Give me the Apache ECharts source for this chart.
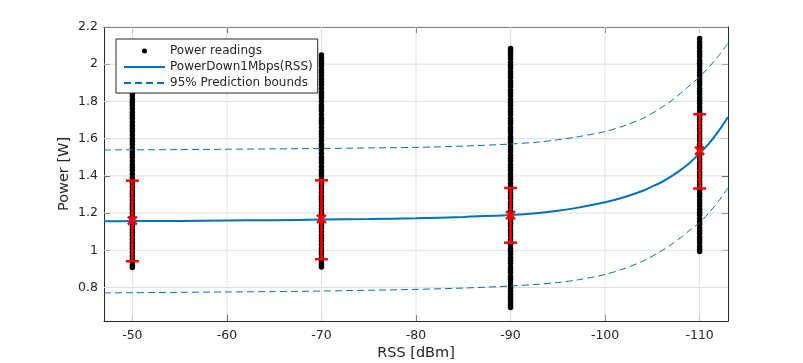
<!DOCTYPE html>
<html>
<head>
<meta charset="utf-8">
<script src="https://cdn.jsdelivr.net/npm/echarts@6/dist/echarts.min.js"></script>
<style>
html,body{margin:0;padding:0;background:#fff;}
#chart{width:803px;height:363px;}
</style>
</head>
<body>
<div id="chart"></div>
<script>
// ---- Data ----
const xTicks = [-50, -60, -70, -80, -90, -100, -110];
const yTicks = [0.8, 1, 1.2, 1.4, 1.6, 1.8, 2, 2.2];

const rssLevels = [-50, -70, -90, -110];
const readings50 = [0.907,0.92,0.94,0.955,0.97,0.99,1.01,1.025,1.04,1.06,1.08,1.095,1.11,1.13,1.15,1.165,1.18,1.20,1.22,1.235,1.25,1.27,1.29,1.305,1.32,1.34,1.36,1.375,1.39,1.41,1.43,1.445,1.46,1.48,1.50,1.515,1.53,1.55,1.57,1.585,1.60,1.62,1.64,1.655,1.67,1.69,1.71,1.725,1.74,1.76,1.78,1.795,1.81,1.83,1.844];
const readings70 = [0.91,0.925,0.94,0.96,0.98,0.995,1.01,1.03,1.05,1.065,1.08,1.10,1.12,1.135,1.15,1.17,1.19,1.205,1.22,1.24,1.26,1.275,1.29,1.31,1.33,1.345,1.36,1.38,1.40,1.415,1.43,1.45,1.47,1.485,1.50,1.52,1.54,1.555,1.57,1.59,1.61,1.625,1.64,1.66,1.68,1.695,1.71,1.73,1.75,1.765,1.78,1.80,1.82,1.835,1.85,1.87,1.89,1.905,1.92,1.94,1.955,1.97,1.99,2.005,2.02,2.035,2.049];
const readings90 = [0.693,0.705,0.72,0.735,0.748,0.762,0.78,0.795,0.81,0.83,0.845,0.86,0.88,0.895,0.91,0.93,0.945,0.96,0.98,0.995,1.01,1.03,1.045,1.06,1.08,1.095,1.11,1.13,1.145,1.16,1.18,1.195,1.21,1.23,1.245,1.26,1.28,1.295,1.31,1.33,1.345,1.36,1.38,1.395,1.41,1.43,1.445,1.46,1.48,1.495,1.51,1.53,1.545,1.56,1.58,1.595,1.61,1.63,1.645,1.66,1.68,1.695,1.71,1.73,1.745,1.76,1.78,1.795,1.81,1.83,1.845,1.86,1.88,1.895,1.91,1.93,1.945,1.96,1.98,1.995,2.01,2.03,2.045,2.06,2.072,2.084];
const readings110 = [0.993,1.005,1.02,1.04,1.055,1.07,1.09,1.105,1.12,1.14,1.155,1.17,1.19,1.205,1.22,1.24,1.255,1.27,1.29,1.305,1.32,1.34,1.355,1.37,1.39,1.405,1.42,1.44,1.455,1.47,1.49,1.505,1.52,1.54,1.555,1.57,1.59,1.605,1.62,1.64,1.655,1.67,1.69,1.705,1.72,1.74,1.755,1.77,1.79,1.805,1.82,1.84,1.855,1.87,1.89,1.905,1.92,1.94,1.955,1.97,1.99,2.005,2.02,2.04,2.055,2.07,2.09,2.105,2.12,2.138];

// fitted curve and prediction bounds
const fitX =     [-47,   -50,   -55,   -60,   -65,   -70,   -75,   -80,   -85,   -90,   -93,   -95,   -97,   -100,  -102,  -104,  -105,  -106,  -107,  -108,  -109,  -110,  -111,  -112,  -113];
const fitY =     [1.156, 1.157, 1.158, 1.160, 1.162, 1.165, 1.168, 1.172, 1.179, 1.189, 1.200, 1.212, 1.228, 1.258, 1.285, 1.320, 1.343, 1.367, 1.397, 1.432, 1.472, 1.522, 1.575, 1.640, 1.716];
const upperY =   [1.539, 1.540, 1.541, 1.543, 1.545, 1.547, 1.550, 1.553, 1.560, 1.571, 1.582, 1.594, 1.609, 1.638, 1.669, 1.709, 1.737, 1.768, 1.803, 1.844, 1.888, 1.932, 1.985, 2.045, 2.111];
const lowerY =   [0.771, 0.772, 0.774, 0.776, 0.778, 0.781, 0.785, 0.790, 0.797, 0.808, 0.818, 0.827, 0.840, 0.870, 0.901, 0.942, 0.969, 0.998, 1.031, 1.068, 1.110, 1.148, 1.202, 1.264, 1.335];

// error bars (mean and bounds)
const errLow =  [0.941, 0.952, 1.041, 1.332];
const errMean = [1.160, 1.169, 1.189, 1.535];
const errHigh = [1.374, 1.376, 1.335, 1.731];

// ---- Build ----
const readingSets = [readings50, readings70, readings90, readings110];
const scatterData = [];
rssLevels.forEach((x, i) => readingSets[i].forEach(v => scatterData.push([x, v])));
const zip = (xs, ys) => xs.map((x, i) => [x, ys[i]]);
const errData = rssLevels.map((x, i) => [x, errLow[i], errMean[i], errHigh[i]]);

const TXT = '#262626';
const FONT = 'DejaVu Sans';
const BLUE = '#0072BD';
const GRIDC = '#dfdfdf';

const chart = echarts.init(document.getElementById('chart'), null, {renderer: 'canvas'});

const axisCommon = {
  type: 'value',
  axisLine: {show: true, onZero: false, lineStyle: {color: TXT, width: 1}},
  axisTick: {show: true, inside: true, length: 6, lineStyle: {color: TXT, width: 1}},
  splitLine: {show: false}
};

// grid lines drawn through the axes' scales
function gridLineSeries(values, horizontal) {
  return {
    type: 'custom', data: values.map(v => [v]), z: 1, silent: true,
    encode: horizontal ? {y: 0} : {x: 0},
    renderItem: function (params, api) {
      const cs = params.coordSys;
      const v = api.value(0);
      let shape;
      if (horizontal) {
        const p = api.coord([-80, v]);
        shape = {x1: cs.x, y1: p[1], x2: cs.x + cs.width, y2: p[1]};
      } else {
        const p = api.coord([v, 1.4]);
        shape = {x1: p[0], y1: cs.y, x2: p[0], y2: cs.y + cs.height};
      }
      return {type: 'line', shape: shape, style: {stroke: GRIDC, lineWidth: 1}};
    }
  };
}

chart.setOption({
  animation: false,
  backgroundColor: '#fff',
  textStyle: {fontFamily: FONT},
  grid: {left: 104, right: 75, top: 27, bottom: 42, containLabel: false, outerBoundsMode: 'none'},
  legend: {
    data: [
      {name: 'Power readings'},
      {name: 'PowerDown1Mbps(RSS)', itemStyle: {opacity: 0}},
      {name: '95% Prediction bounds', itemStyle: {opacity: 0}}
    ],
    orient: 'vertical',
    left: 116, top: 39, z: 10,
    itemWidth: 41, itemHeight: 5, itemGap: 2,
    padding: [5, 5, 3, 7],
    backgroundColor: '#fff',
    borderColor: TXT, borderWidth: 1,
    selectedMode: false,
    textStyle: {fontFamily: FONT, fontSize: 12, color: TXT, lineHeight: 14}
  },
  xAxis: [
    Object.assign({}, axisCommon, {
      position: 'bottom', inverse: true, min: -113, max: -47,
      axisTick: Object.assign({}, axisCommon.axisTick, {customValues: xTicks}),
      axisLabel: {customValues: xTicks, color: TXT, fontFamily: FONT, fontSize: 12.5, margin: 8},
      name: 'RSS [dBm]', nameLocation: 'middle', nameGap: 25, nameMoveOverlap: false,
      nameTextStyle: {color: TXT, fontFamily: FONT, fontSize: 14.5}
    }),
    Object.assign({}, axisCommon, {
      position: 'top', inverse: true, min: -113, max: -47,
      axisTick: Object.assign({}, axisCommon.axisTick, {customValues: xTicks}),
      axisLabel: {show: false, customValues: xTicks}
    })
  ],
  yAxis: [
    Object.assign({}, axisCommon, {
      position: 'left', min: 0.62, max: 2.2,
      axisTick: Object.assign({}, axisCommon.axisTick, {customValues: yTicks}),
      axisLabel: {customValues: yTicks, color: TXT, fontFamily: FONT, fontSize: 12.5, margin: 6},
      name: 'Power [W]', nameLocation: 'middle', nameGap: 32, nameMoveOverlap: false,
      nameTextStyle: {color: TXT, fontFamily: FONT, fontSize: 14.5}
    }),
    Object.assign({}, axisCommon, {
      position: 'right', min: 0.62, max: 2.2,
      axisTick: Object.assign({}, axisCommon.axisTick, {customValues: yTicks}),
      axisLabel: {show: false, customValues: yTicks}
    })
  ],
  series: [
    gridLineSeries(yTicks, true),
    gridLineSeries(xTicks, false),
    {
      name: 'Power readings', type: 'scatter', data: scatterData,
      symbol: 'circle', symbolSize: 5.5,
      itemStyle: {color: '#000', opacity: 1}, z: 2
    },
    {
      name: 'PowerDown1Mbps(RSS)', type: 'line', data: zip(fitX, fitY),
      showSymbol: false, symbol: 'none', smooth: 0.3,
      lineStyle: {color: BLUE, width: 2}, itemStyle: {color: BLUE}, z: 3
    },
    {
      name: '95% Prediction bounds', type: 'line', data: zip(fitX, upperY),
      showSymbol: false, symbol: 'none', smooth: 0.3,
      lineStyle: {color: BLUE, width: 1, type: [7, 4]}, itemStyle: {color: BLUE}, z: 3
    },
    {
      name: '95% Prediction bounds', type: 'line', data: zip(fitX, lowerY),
      showSymbol: false, symbol: 'none', smooth: 0.3,
      lineStyle: {color: BLUE, width: 1, type: [7, 4]}, itemStyle: {color: BLUE}, z: 3
    },
    {
      name: 'errorbars', type: 'custom', data: errData, z: 4,
      encode: {x: 0, y: [1, 2, 3]},
      renderItem: function (params, api) {
        const x = api.value(0);
        const pLo = api.coord([x, api.value(1)]);
        const pM = api.coord([x, api.value(2)]);
        const pHi = api.coord([x, api.value(3)]);
        const st = {stroke: '#ff0000', lineWidth: 2.5, fill: null};
        const cap = 6.5, mw = 4.5, mh = 4;
        return {
          type: 'group',
          children: [
            {type: 'line', shape: {x1: pLo[0], y1: pLo[1], x2: pHi[0], y2: pHi[1]}, style: st},
            {type: 'line', shape: {x1: pLo[0] - cap, y1: pLo[1], x2: pLo[0] + cap, y2: pLo[1]}, style: st},
            {type: 'line', shape: {x1: pHi[0] - cap, y1: pHi[1], x2: pHi[0] + cap, y2: pHi[1]}, style: st},
            {type: 'line', shape: {x1: pM[0] - mw, y1: pM[1] - mh, x2: pM[0] + mw, y2: pM[1] + mh}, style: st},
            {type: 'line', shape: {x1: pM[0] - mw, y1: pM[1] + mh, x2: pM[0] + mw, y2: pM[1] - mh}, style: st}
          ]
        };
      }
    }
  ]
});
</script>
</body>
</html>
